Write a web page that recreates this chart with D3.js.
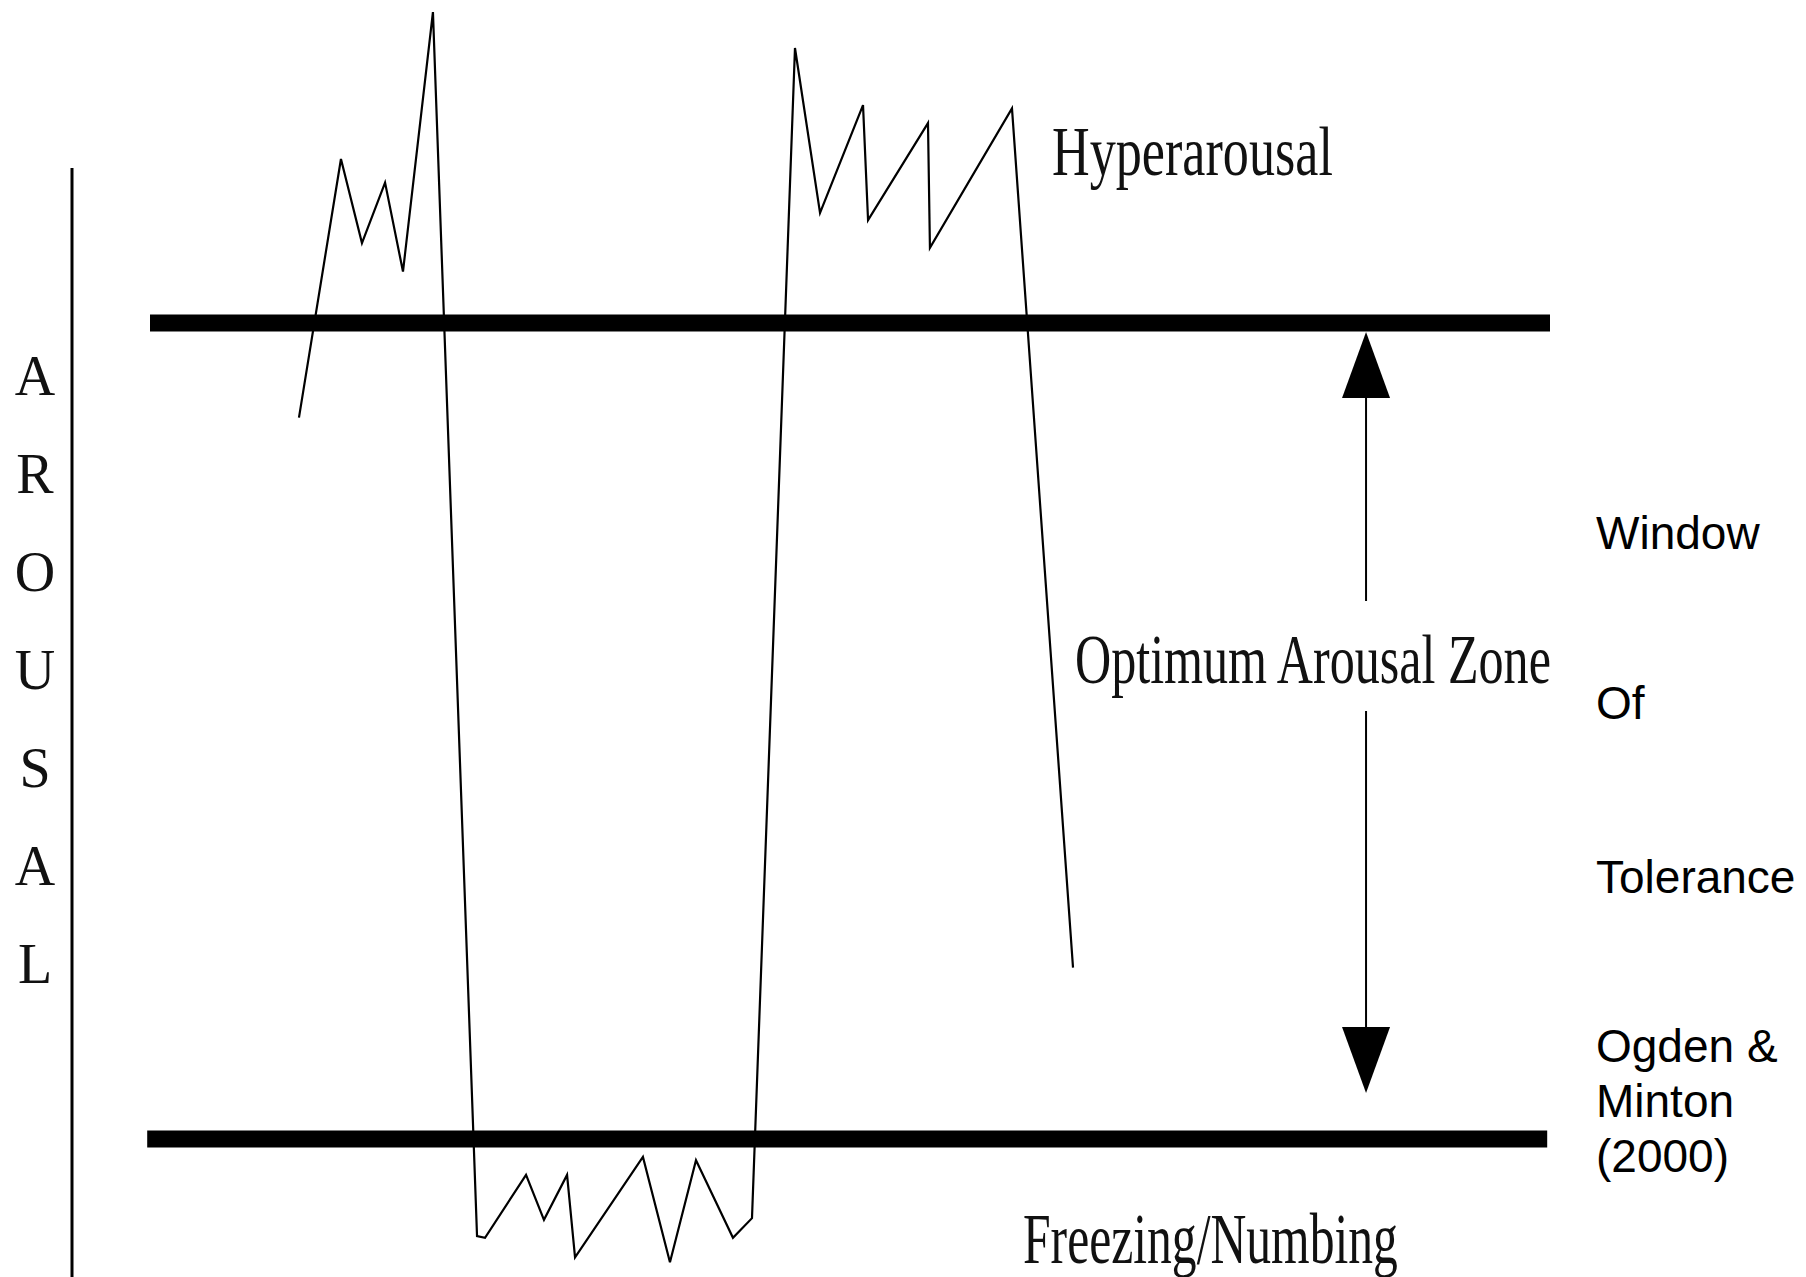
<!DOCTYPE html>
<html>
<head>
<meta charset="utf-8">
<script src="https://cdn.jsdelivr.net/npm/d3@7/dist/d3.min.js"></script>
<style>
  html, body { margin: 0; padding: 0; background: #fff; }
  svg { display: block; }
</style>
</head>
<body>
<script>
// ---- Data (time units 0-100 along the threshold lines; arousal: 0 = lower threshold, 1 = upper threshold)
const timePoints = [10.64, 13.64, 15.14, 16.79, 18.07, 20.21, 23.36, 23.93, 26.86, 28.14, 29.79, 30.36, 35.21, 37.14, 39.0, 41.64, 43.0, 46.07, 47.86, 50.93, 51.29, 55.57, 55.71, 61.57, 65.93];
const arousalValues = [0.884, 1.201, 1.098, 1.172, 1.063, 1.381, -0.119, -0.121, -0.044, -0.099, -0.044, -0.145, -0.022, -0.151, -0.026, -0.121, -0.097, 1.337, 1.135, 1.267, 1.126, 1.245, 1.092, 1.263, 0.210];
const thresholds = [1, 0];                 // upper (hyperarousal) and lower (hypoarousal) thresholds
const axisLetters = ["A", "R", "O", "U", "S", "A", "L"];
const zoneLabels = ["Hyperarousal", "Optimum Arousal Zone", "Freezing/Numbing"];
const sideLabels = ["Window", "Of", "Tolerance"];
const citationLines = ["Ogden &", "Minton", "(2000)"];

const W = 1806, H = 1277;
const svg = d3.select("body").append("svg").attr("width", W).attr("height", H);

const x = d3.scaleLinear().domain([0, 100]).range([150, 1550]);
const y = d3.scaleLinear().domain([0, 1]).range([1139, 323]);

// Vertical arousal axis
svg.append("line")
  .attr("x1", 72).attr("x2", 72)
  .attr("y1", y(1.19)).attr("y2", H)
  .attr("stroke", "#000").attr("stroke-width", 3);

svg.selectAll("text.axisletter")
  .data(axisLetters)
  .enter().append("text")
  .attr("class", "axisletter")
  .attr("x", 35)
  .attr("y", (d, i) => 395 + i * 98)
  .attr("text-anchor", "middle")
  .attr("font-family", "'Liberation Serif', 'Times New Roman', serif")
  .attr("font-size", 56)
  .attr("fill", "#111")
  .text(d => d);

// Threshold lines
svg.selectAll("line.threshold")
  .data(thresholds)
  .enter().append("line")
  .attr("class", "threshold")
  .attr("x1", (d, i) => x(i === 0 ? 0 : -0.2))
  .attr("x2", (d, i) => x(i === 0 ? 100 : 99.8))
  .attr("y1", d => y(d)).attr("y2", d => y(d))
  .attr("stroke", "#000").attr("stroke-width", 17);

// Arousal trace
const pts = timePoints.map((t, i) => [t, arousalValues[i]]);
const line = d3.line().x(d => x(d[0])).y(d => y(d[1]));
svg.append("path")
  .datum(pts)
  .attr("d", line)
  .attr("fill", "none")
  .attr("stroke", "#000")
  .attr("stroke-width", 2.2)
  .attr("stroke-linejoin", "miter");

// Window arrow
const ax = x(86.86);
const topTip = y(1) + 9, botTip = y(0) - 46;
const headH = 66, headW = 48;
svg.append("path")
  .attr("d", `M${ax},${topTip} L${ax - headW / 2},${topTip + headH} L${ax + headW / 2},${topTip + headH} Z`)
  .attr("fill", "#000");
svg.append("path")
  .attr("d", `M${ax},${botTip} L${ax - headW / 2},${botTip - headH} L${ax + headW / 2},${botTip - headH} Z`)
  .attr("fill", "#000");
svg.append("line")
  .attr("x1", ax).attr("x2", ax)
  .attr("y1", topTip + headH).attr("y2", 601)
  .attr("stroke", "#000").attr("stroke-width", 2);
svg.append("line")
  .attr("x1", ax).attr("x2", ax)
  .attr("y1", 711).attr("y2", botTip - headH)
  .attr("stroke", "#000").attr("stroke-width", 2);

// Zone labels (condensed serif, squeezed horizontally with a transform)
const zonePos = [
  { x: 1052, y: 175, len: 281, size: 70 },
  { x: 1075, y: 683, len: 476, size: 70 },
  { x: 1023, y: 1263, len: 375, size: 72 }
];
svg.selectAll("text.zone")
  .data(zoneLabels)
  .enter().append("text")
  .attr("class", "zone")
  .attr("x", 0)
  .attr("y", 0)
  .attr("font-family", "'Liberation Serif', 'Times New Roman', serif")
  .attr("font-size", (d, i) => zonePos[i].size)
  .attr("fill", "#111")
  .text(d => d)
  .attr("transform", function (d, i) {
    const natural = this.getComputedTextLength();
    const sx = zonePos[i].len / natural;
    return `translate(${zonePos[i].x},${zonePos[i].y}) scale(${sx},1)`;
  });

// Right side labels (sans)
const sideY = [549, 719, 893];
svg.selectAll("text.side")
  .data(sideLabels)
  .enter().append("text")
  .attr("class", "side")
  .attr("x", 1596)
  .attr("y", (d, i) => sideY[i])
  .attr("font-family", "'Liberation Sans', Arial, sans-serif")
  .attr("font-size", 46)
  .attr("fill", "#000")
  .text(d => d);

svg.selectAll("text.cite")
  .data(citationLines)
  .enter().append("text")
  .attr("class", "cite")
  .attr("x", 1596)
  .attr("y", (d, i) => 1062 + i * 55)
  .attr("font-family", "'Liberation Sans', Arial, sans-serif")
  .attr("font-size", 46)
  .attr("fill", "#000")
  .text(d => d);
</script>
</body>
</html>
